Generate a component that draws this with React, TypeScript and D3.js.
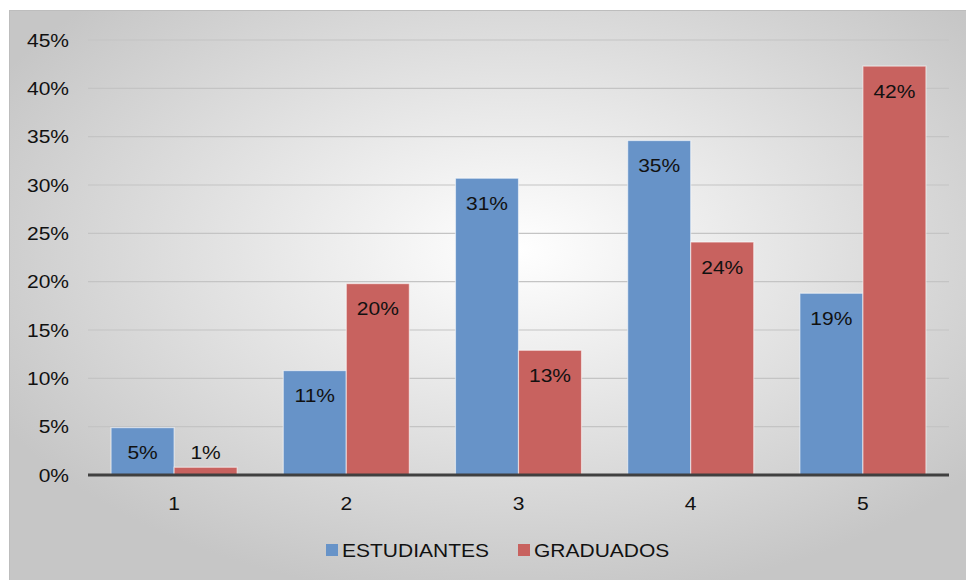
import React from "react";
import * as d3 from "d3";

const categories = ["1", "2", "3", "4", "5"];
const seriesNames = ["ESTUDIANTES", "GRADUADOS"];
const estudiantes = [0.049, 0.108, 0.307, 0.346, 0.188];
const graduados = [0.008, 0.198, 0.129, 0.241, 0.423];
const yTicks = [0, 0.05, 0.1, 0.15, 0.2, 0.25, 0.3, 0.35, 0.4, 0.45];
const colors = ["#6793c8", "#c8625f"];

const font = "'Liberation Sans', Arial, sans-serif";

function T({ x, y, anchor = "middle", children }: { x: number; y: number; anchor?: string; children: React.ReactNode }) {
  return (
    <g transform={`translate(${x},${y}) scale(1.13,1)`}>
      <text x={0} y={0} dy="0.35em" textAnchor={anchor} fontFamily={font} fontSize={18.6} fill="#111">
        {children}
      </text>
    </g>
  );
}

export default function App() {
  const W = 966, H = 580;
  const left = 88, right = 949, top = 40, bottom = 475;
  const y = d3.scaleLinear().domain([0, 0.45]).range([bottom, top]);
  const x0 = d3.scaleBand().domain(categories).range([left, right]).paddingInner(0.268).paddingOuter(0.134);
  const x1 = d3.scaleBand().domain(seriesNames).range([0, x0.bandwidth()]);
  const fmt = d3.format(".0%");
  const series = [estudiantes, graduados];
  return (
    <div style={{ position: "absolute", left: 0, top: 0 }}>
      <svg width={W} height={H} style={{ display: "block" }}>
        <defs>
          <radialGradient id="bg" cx="0.53" cy="0.42" r="0.62" gradientUnits="objectBoundingBox">
            <stop offset="0" stopColor="#ffffff" />
            <stop offset="1" stopColor="#c6c6c6" />
          </radialGradient>
        </defs>
        <rect x={9.5} y={10.5} width={W - 9} height={H - 10} fill="url(#bg)" stroke="#bdbdbd" strokeWidth={1} />
        {yTicks.map((t) => (
          <g key={t}>
            {t > 0 && <line x1={left} x2={right} y1={y(t)} y2={y(t)} stroke="#c4c4c4" strokeWidth={1.2} />}
            <T x={69} y={y(t)} anchor="end">{fmt(t)}</T>
          </g>
        ))}
        {categories.map((c, i) => (
          <g key={c}>
            {series.map((s, j) => {
              const v = s[i];
              const bx = (x0(c) as number) + (x1(seriesNames[j]) as number);
              const bw = x1.bandwidth();
              const by = y(v);
              const bh = bottom - by;
              const ly = bh < 40 ? by - 15 : by + 25;
              return (
                <g key={j}>
                  <rect x={bx} y={by} width={bw} height={bh} fill={colors[j]} stroke="rgba(255,255,255,0.55)" strokeWidth={1.2} />
                  <T x={bx + bw / 2} y={ly}>{fmt(v)}</T>
                </g>
              );
            })}
            <T x={(x0(c) as number) + x0.bandwidth() / 2} y={503}>{c}</T>
          </g>
        ))}
        <line x1={left} x2={right} y1={bottom} y2={bottom} stroke="#404040" strokeWidth={3} />
        {seriesNames.map((n, j) => {
          const lx = [326, 518][j];
          return (
            <g key={n}>
              <rect x={lx} y={544} width={12} height={12} fill={colors[j]} />
              <T x={lx + 16} y={550} anchor="start">{n}</T>
            </g>
          );
        })}
      </svg>
    </div>
  );
}
